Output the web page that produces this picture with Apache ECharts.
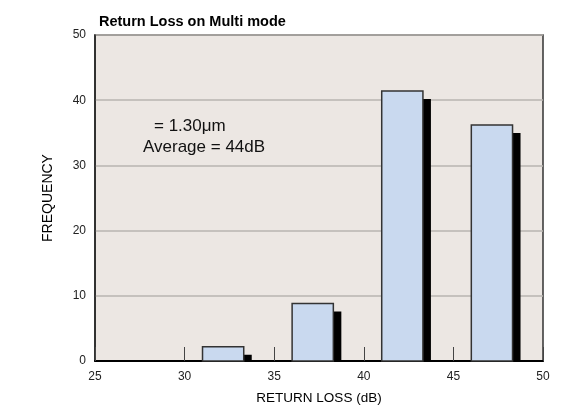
<!DOCTYPE html>
<html>
<head>
<meta charset="utf-8">
<script src="https://cdn.jsdelivr.net/npm/echarts@6/dist/echarts.min.js"></script>
<style>
  html, body { margin: 0; padding: 0; background: #fff; }
  #chart { width: 566px; height: 410px; }
</style>
</head>
<body>
<div id="chart"></div>
<script>
// bar edges (dB) and frequency counts
const barFrom = [31, 36, 41, 46];
const barTo = [33.3, 38.3, 43.3, 48.3];
const counts = [2.2, 8.8, 41.4, 36.2];
const xTicks = [25, 30, 35, 40, 45, 50];
const yTicks = [0, 10, 20, 30, 40, 50];

const font = '"Liberation Sans", Arial, sans-serif';
const data = counts.map((c, i) => [barFrom[i], barTo[i], c]);

const chart = echarts.init(document.getElementById('chart'));
chart.setOption({
  animation: false,
  title: {
    text: 'Return Loss on Multi mode',
    left: 94,
    top: 9,
    textStyle: { fontFamily: font, fontSize: 14.5, fontWeight: 'bold', color: '#000' }
  },
  grid: {
    left: 95, right: 23, top: 35, bottom: 49,
    show: true,
    backgroundColor: '#ece7e3',
    borderColor: '#333',
    borderWidth: 1.5
  },
  xAxis: {
    type: 'value',
    min: xTicks[0],
    max: xTicks[xTicks.length - 1],
    interval: 5,
    name: 'RETURN LOSS (dB)',
    nameLocation: 'middle',
    nameGap: 30,
    nameTextStyle: { fontFamily: font, fontSize: 13.5, color: '#000' },
    axisLine: { lineStyle: { color: '#000', width: 2 } },
    axisTick: { inside: true, length: 14, lineStyle: { color: '#444' } },
    axisLabel: { fontFamily: font, fontSize: 12, color: '#222', margin: 10 },
    splitLine: { show: false }
  },
  yAxis: {
    type: 'value',
    min: yTicks[0],
    max: yTicks[yTicks.length - 1],
    interval: 10,
    name: 'FREQUENCY',
    nameLocation: 'middle',
    nameGap: 40,
    nameTextStyle: { fontFamily: font, fontSize: 14, color: '#000' },
    axisLine: { show: true, lineStyle: { color: '#222', width: 1.5 } },
    axisTick: { show: false },
    axisLabel: { fontFamily: font, fontSize: 12, color: '#222', margin: 9 },
    splitLine: { lineStyle: { color: '#b8b4b1', width: 1.5 } }
  },
  graphic: [
    {
      type: 'text', x: 154, y: 126,
      style: { text: '= 1.30μm', fontFamily: font, fontSize: 17, fill: '#111', verticalAlign: 'middle' }
    },
    {
      type: 'text', x: 143, y: 147,
      style: { text: 'Average = 44dB', fontFamily: font, fontSize: 17, fill: '#111', verticalAlign: 'middle' }
    }
  ],
  series: [{
    type: 'custom',
    data: data,
    renderItem: function (params, api) {
      const tl = api.coord([api.value(0), api.value(2)]);
      const br = api.coord([api.value(1), 0]);
      const w = br[0] - tl[0];
      const h = br[1] - tl[1];
      return {
        type: 'group',
        children: [
          { type: 'rect', shape: { x: tl[0] + 8, y: tl[1] + 8, width: w, height: h - 8 }, style: { fill: '#000' } },
          { type: 'rect', shape: { x: tl[0], y: tl[1], width: w, height: h }, style: { fill: '#c9d9ef', stroke: '#333', lineWidth: 1.5 } }
        ]
      };
    }
  }]
});
</script>
</body>
</html>
